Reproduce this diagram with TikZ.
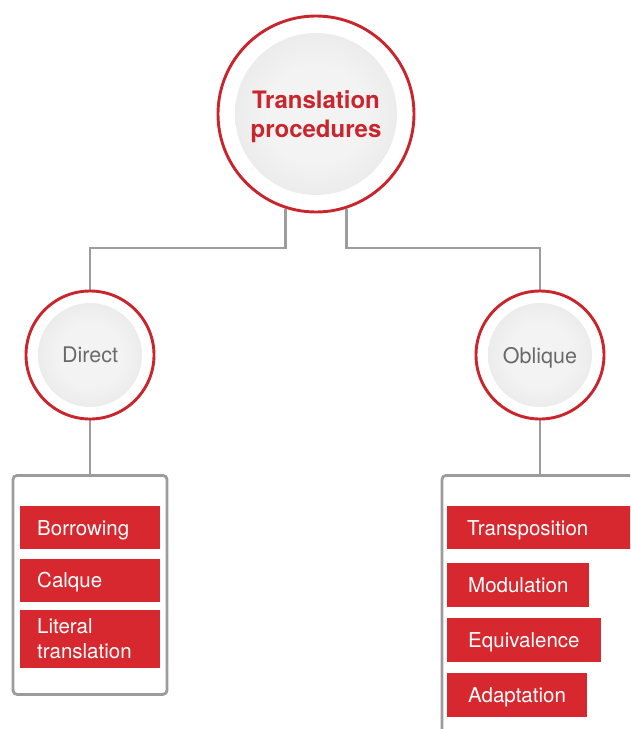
\documentclass[tikz,border=0pt]{standalone}
\usepackage{fontspec}
\setmainfont{TeX Gyre Heros}
\usetikzlibrary{positioning, backgrounds}
\definecolor{tpred}{HTML}{C9252D}
\definecolor{boxred}{HTML}{D6282E}
\definecolor{linegray}{HTML}{9C9C9C}
\definecolor{textgray}{HTML}{6A6A6A}
\definecolor{discin}{HTML}{F3F3F3}
\definecolor{discout}{HTML}{DADADA}
\pgfdeclareradialshading{discshade}{\pgfpointorigin}{color(0bp)=(discin); color(15bp)=(discin); color(50bp)=(discout)}

\begin{document}
\begin{tikzpicture}[
    x=1pt, y=-1pt,
    ring/.style={circle, draw=tpred, line width=2.9pt, fill=white, inner sep=0pt},
    disc/.style={circle, shading=discshade, inner sep=0pt, align=center, text depth=0pt},
    conn/.style={draw=linegray, line width=2.8pt},
    listbox/.style={draw=linegray, line width=2.8pt, rounded corners=4pt, inner sep=0pt},
    item/.style={fill=boxred, text=white, font=\fontsize{20.5}{25}\selectfont, inner ysep=0pt, minimum height=43pt, text depth=0pt},
    leftitem/.style={item, text width=106pt, inner xsep=17pt, align=left},
    rightitem/.style={item, inner xsep=21pt, minimum height=44pt},
]
\path[use as bounding box, clip] (0,0) rectangle (630,729);

% root
\node[ring, minimum size=196pt] (root) at (316,114) {};
\node[disc, minimum size=162pt, text=tpred, font=\fontsize{24}{29}\selectfont\bfseries] (roottext) at (root) {Translation\\procedures};

% two branches
\node[ring, minimum size=128pt] (direct) at (90,355) {};
\node[disc, minimum size=104pt, text=textgray, font=\fontsize{21.5}{26}\selectfont] (directtext) at (direct) {Direct};
\node[ring, minimum size=128pt] (oblique) at (540,355) {};
\node[disc, minimum size=104pt, text=textgray, font=\fontsize{21.5}{26}\selectfont] (obliquetext) at (oblique) {Oblique};

% lists
\node[listbox, anchor=north, minimum width=154pt, minimum height=219pt] (directlist) at (90,474) {};
\node[listbox, anchor=north, minimum width=196pt, minimum height=268pt] (obliquelist) at (540,474) {};

% direct procedures
\node[leftitem, anchor=north west] (borrowing) at (20,506) {Borrowing};
\node[leftitem, below=9pt of borrowing] (calque) {Calque};
\node[leftitem, below=8pt of calque, minimum height=58pt, text depth={}] (literal) {Literal\\translation};

% oblique procedures
\node[item, anchor=north west, text width=153pt, inner xsep=20pt, align=left] (transposition) at (447,506) {Transposition};
\node[rightitem, below=13pt of transposition.south west, anchor=north west] (modulation) {Modulation};
\node[rightitem, below=11pt of modulation.south west, anchor=north west] (equivalence) {Equivalence};
\node[rightitem, below=11pt of equivalence.south west, anchor=north west] (adaptation) {Adaptation};

% connectors
\begin{scope}[on background layer]
\fill[white] (0,0) rectangle (630,729);
\coordinate (splitl) at (90,248);
\coordinate (splitr) at (540,248);
\draw[conn] (root.252) |- (splitl) -- (direct);
\draw[conn] (root.288) |- (splitr) -- (oblique);
\draw[conn] (direct) -- (directlist);
\draw[conn] (oblique) -- (obliquelist);
\end{scope}

\end{tikzpicture}
\end{document}
